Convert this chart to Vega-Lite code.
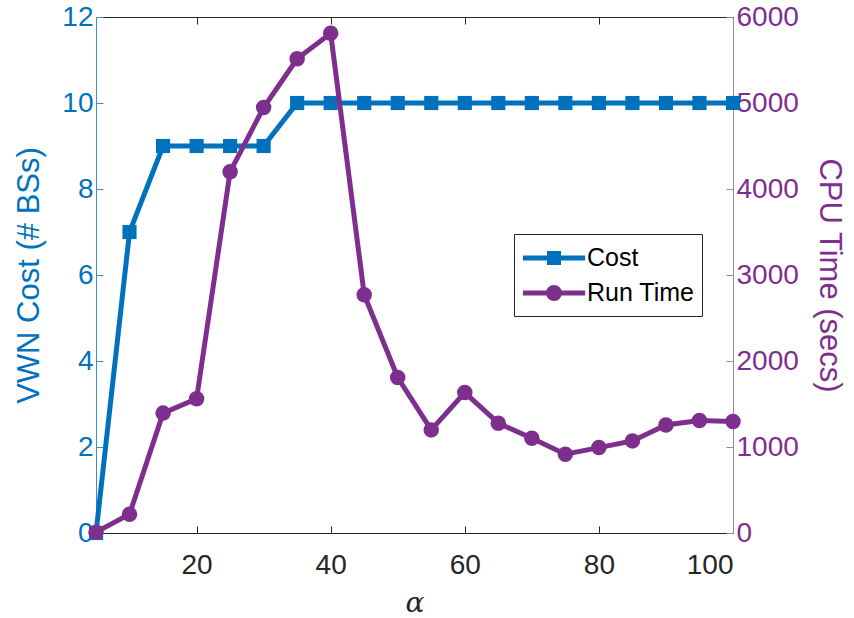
{
  "$schema": "https://vega.github.io/schema/vega-lite/v6.json",
  "width": 637,
  "height": 516,
  "autosize": {"type": "none"},
  "padding": {"left": 96, "top": 17, "right": 121, "bottom": 85},
  "background": "white",
  "config": {
    "view": {"stroke": null},
    "font": "Liberation Sans",
    "axis": {
      "labelFont": "Liberation Sans",
      "labelFontSize": 28,
      "titleFont": "Liberation Sans",
      "titleFontSize": 31,
      "titleFontWeight": "normal",
      "grid": false,
      "tickSize": -7,
      "tickWidth": 1,
      "domainWidth": 1,
      "labelPadding": 10
    }
  },
  "data": {
    "values": [
      {"alpha": 5, "cost": 0, "runtime": 10},
      {"alpha": 10, "cost": 7, "runtime": 218},
      {"alpha": 15, "cost": 9, "runtime": 1394},
      {"alpha": 20, "cost": 9, "runtime": 1560},
      {"alpha": 25, "cost": 9, "runtime": 4200},
      {"alpha": 30, "cost": 9, "runtime": 4948},
      {"alpha": 35, "cost": 10, "runtime": 5515},
      {"alpha": 40, "cost": 10, "runtime": 5810},
      {"alpha": 45, "cost": 10, "runtime": 2770},
      {"alpha": 50, "cost": 10, "runtime": 1808},
      {"alpha": 55, "cost": 10, "runtime": 1199},
      {"alpha": 60, "cost": 10, "runtime": 1633},
      {"alpha": 65, "cost": 10, "runtime": 1277},
      {"alpha": 70, "cost": 10, "runtime": 1102},
      {"alpha": 75, "cost": 10, "runtime": 916},
      {"alpha": 80, "cost": 10, "runtime": 993},
      {"alpha": 85, "cost": 10, "runtime": 1071},
      {"alpha": 90, "cost": 10, "runtime": 1257},
      {"alpha": 95, "cost": 10, "runtime": 1307},
      {"alpha": 100, "cost": 10, "runtime": 1296}
    ]
  },
  "layer": [
    {
      "encoding": {
        "x": {
          "field": "alpha", "type": "quantitative",
          "scale": {"domain": [5, 100], "nice": false, "zero": false},
          "axis": {
            "orient": "bottom", "values": [20, 40, 60, 80, 100],
            "title": "α", "titleFont": "DejaVu Serif", "titleFontStyle": "italic",
            "titleFontSize": 28, "titleColor": "#262626", "titlePadding": 10,
            "labelColor": "#262626", "labelPadding": 25, "domainColor": "#262626", "tickColor": "#262626"
          }
        },
        "y": {
          "field": "cost", "type": "quantitative",
          "scale": {"domain": [0, 12], "nice": false},
          "axis": {
            "orient": "left", "values": [0, 2, 4, 6, 8, 10, 12],
            "title": "VWN Cost (# BSs)", "titleColor": "#0072BD", "titlePadding": 16,
            "labelColor": "#0072BD", "domainColor": "#3A8FCB", "tickColor": "#3A8FCB"
          }
        },
        "color": {
          "datum": "Cost",
          "scale": {"domain": ["Cost", "Run Time"], "range": ["#0072BD", "#7E2F8E"]},
          "legend": {
            "orient": "none", "legendX": 418, "legendY": 217, "title": null,
            "strokeColor": "#262626", "fillColor": "white", "padding": 7,
            "labelFont": "Liberation Sans", "labelFontSize": 25, "labelColor": "#000000",
            "labelOffset": 16, "symbolSize": 800, "symbolOffset": 16, "rowPadding": 3,
            "encode": {
              "symbols": {
                "update": {
                  "shape": {"signal": "datum.value === 'Cost' ? 'M-2.2,0H2.2M-0.32,-0.32H0.32V0.32H-0.32Z' : 'M-2.2,0H2.2M0.39,0A0.39,0.39,0,1,1,-0.39,0A0.39,0.39,0,1,1,0.39,0Z'"},
                  "fill": {"signal": "datum.value === 'Cost' ? '#0072BD' : '#7E2F8E'"},
                  "stroke": {"signal": "datum.value === 'Cost' ? '#0072BD' : '#7E2F8E'"},
                  "strokeWidth": {"value": 5},
                  "opacity": {"value": 1}
                }
              }
            }
          }
        }
      },
      "layer": [
        {"mark": {"type": "line", "strokeWidth": 5}},
        {"mark": {"type": "point", "shape": "square", "filled": true, "size": 200, "opacity": 1}}
      ]
    },
    {
      "encoding": {
        "x": {
          "field": "alpha", "type": "quantitative",
          "scale": {"domain": [5, 100], "nice": false, "zero": false},
          "axis": {
            "orient": "top", "values": [20, 40, 60, 80, 100], "labels": false, "title": null,
            "domainColor": "#262626", "tickColor": "#262626"
          }
        },
        "y": {
          "field": "runtime", "type": "quantitative",
          "scale": {"domain": [0, 6000], "nice": false},
          "axis": {
            "orient": "right", "values": [0, 1000, 2000, 3000, 4000, 5000, 6000], "format": "d",
            "title": "CPU Time (secs)", "titleColor": "#7E2F8E", "titlePadding": 14,
            "labelColor": "#7E2F8E", "domainColor": "#A77BB4", "tickColor": "#A77BB4"
          }
        },
        "color": {"datum": "Run Time"}
      },
      "layer": [
        {"mark": {"type": "line", "strokeWidth": 5}},
        {"mark": {"type": "point", "shape": "circle", "filled": true, "size": 240, "opacity": 1}}
      ]
    }
  ],
  "resolve": {"scale": {"y": "independent"}, "axis": {"x": "independent", "y": "independent"}}
}
